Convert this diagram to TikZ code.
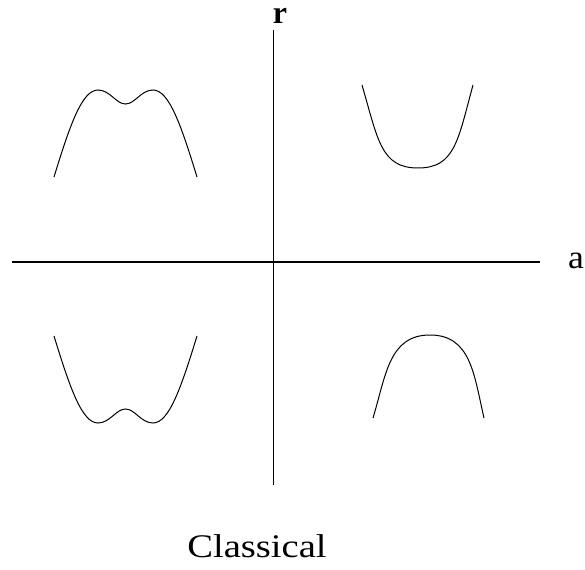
\documentclass[tikz,border=0pt]{standalone}
\usepackage{fontspec}
\setmainfont{Liberation Serif}
\begin{document}
\begin{tikzpicture}[x=1pt,y=-1pt,
  axis/.style={line width=1.8pt},
  curve/.style={line width=1pt},
  lbl/.style={font=\fontsize{33}{40}\selectfont, inner sep=0pt, anchor=base}]
\useasboundingbox (0,0) rectangle (585,569);
\fill[white] (0,0) rectangle (585,569);
% axes
\coordinate (hl) at (12,262);
\coordinate (hr) at (540,262);
\coordinate (vt) at (273.5,30);
\coordinate (vb) at (273.5,485);
\draw[axis] (hl) -- (hr);
\draw[axis] (vt) -- (vb);
\node[lbl, font=\fontsize{32}{40}\selectfont\bfseries] (r) at (280,24) {r};
\node[lbl, xscale=1.08] (a) at (576,268) {a};
\node[lbl, xscale=1.17] (cl) at (257,557) {Classical};
% curves
\draw[curve] (54,177) .. controls (70,125) and (82,90) .. (98,90)
  .. controls (110,90) and (116,104) .. (125.5,104)
  .. controls (135,104) and (141,90) .. (153,90)
  .. controls (169,90) and (181,125) .. (197,177);
\draw[curve] (362,85) .. controls (378,140) and (381,168) .. (418,168)
  .. controls (455,168) and (458,140) .. (473,85);
\draw[curve] (54,336) .. controls (70,388) and (82,423) .. (98,423)
  .. controls (110,423) and (116,409) .. (125.5,409)
  .. controls (135,409) and (141,423) .. (153,423)
  .. controls (169,423) and (181,388) .. (197,336);
\draw[curve] (373,418) .. controls (386,375) and (389,335) .. (430,335)
  .. controls (471,335) and (474,375) .. (484,418);
\end{tikzpicture}
\end{document}
